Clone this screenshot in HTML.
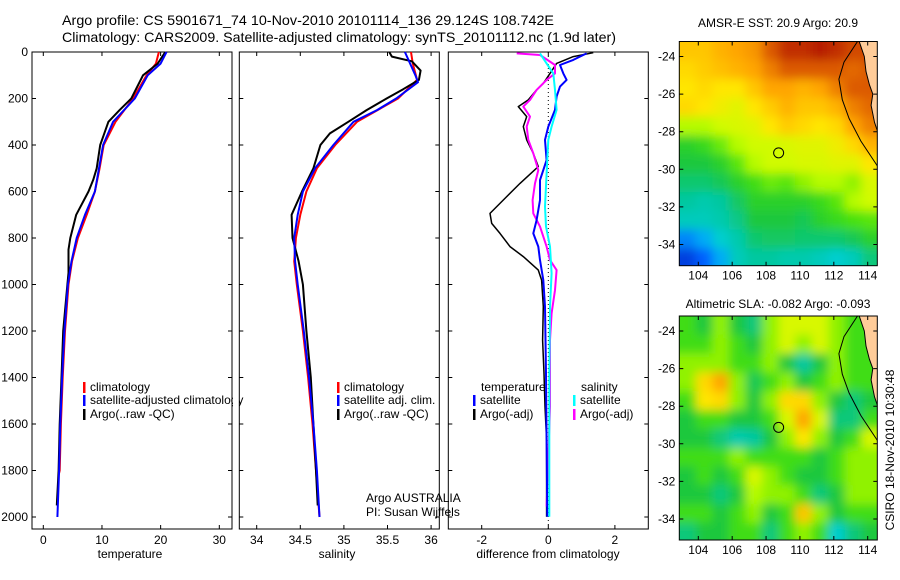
<!DOCTYPE html>
<html><head><meta charset="utf-8"><style>
body{margin:0;background:#fff}
svg{display:block;font-family:"Liberation Sans",sans-serif}
</style></head><body>
<svg id="fig" width="900" height="580" viewBox="0 0 900 580" xmlns="http://www.w3.org/2000/svg">
<rect width="900" height="580" fill="#fff"/>
<text x="62" y="25" font-size="14" textLength="492" lengthAdjust="spacingAndGlyphs">Argo profile: CS 5901671_74 10-Nov-2010 20101114_136 29.124S 108.742E</text>
<text x="62" y="42" font-size="14" textLength="554" lengthAdjust="spacingAndGlyphs">Climatology: CARS2009. Satellite-adjusted climatology: synTS_20101112.nc (1.9d later)</text>
<text x="778" y="27" font-size="12" text-anchor="middle">AMSR-E SST: 20.9 Argo: 20.9</text>
<text x="778" y="308" font-size="12" text-anchor="middle">Altimetric SLA: -0.082 Argo: -0.093</text>
<text transform="translate(894,450) rotate(-90)" font-size="12" text-anchor="middle">CSIRO 18-Nov-2010 10:30:48</text>
<g id="plots"></g>
</svg>
<script>
// ---------- data ----------
const tClimDepth=[0,50,100,200,300,400,500,600,700,800,900,1000,1200,1400,1600,1800,1820];
const tClimVal=[19.7,19.2,17.6,15.3,12.3,10.3,9.6,8.8,7.4,5.9,4.9,4.3,3.7,3.3,3.0,2.8,2.6];
const tSatDepth=[0,50,100,200,300,400,500,600,700,800,900,1000,1200,1400,1600,1800,2000];
const tSatVal=[21.0,20.0,17.8,15.6,11.9,10.2,9.5,8.8,7.1,5.7,4.8,4.2,3.6,3.2,2.9,2.7,2.4];
const tArgoDepth=[0,50,100,200,250,300,350,400,500,550,600,700,800,850,950,1000,1200,1400,1600,1800,1950];
const tArgoVal=[20.8,19.5,17.0,15.0,13.0,11.1,10.4,9.7,9.1,8.5,7.7,5.6,4.6,4.3,4.3,4.1,3.4,3.1,2.8,2.6,2.3];

const sClimDepth=[0,50,120,200,300,400,500,600,700,800,900,1000,1200,1400,1600,1800,2000];
const sClimVal=[35.77,35.79,35.84,35.62,35.15,34.90,34.69,34.57,34.50,34.45,34.43,34.46,34.53,34.59,34.64,34.68,34.72];
const sSatDepth=[0,100,130,200,250,300,400,500,600,700,800,900,1000,1200,1400,1600,1800,2000];
const sSatVal=[35.70,35.82,35.85,35.60,35.38,35.11,34.88,34.67,34.53,34.47,34.43,34.44,34.47,34.54,34.60,34.65,34.69,34.72];
const sArgoDepth=[0,20,40,80,120,160,200,250,300,350,400,500,600,700,800,900,1000,1200,1400,1600,1800,1950];
const sArgoVal=[35.52,35.55,35.78,35.88,35.86,35.68,35.49,35.26,35.05,34.84,34.73,34.65,34.52,34.40,34.41,34.48,34.53,34.57,34.62,34.65,34.68,34.70];

const dTArgoDepth=[3,20,49,92,135,163,206,235,278,321,378,436,493,565,622,694,737,780,837,880,938,981,1095,1239,1382,1525,1669,1999];
const dTArgoVal=[1.35,0.75,0.25,0.05,-0.15,-0.35,-0.6,-0.9,-0.65,-0.75,-0.65,-0.45,-0.3,-0.85,-1.25,-1.75,-1.7,-1.45,-1.15,-0.75,-0.3,-0.2,-0.15,-0.17,-0.13,-0.1,-0.05,-0.05];
const dTSatDepth=[6,34,56,92,120,149,192,249,321,378,465,551,637,723,780,837,895,981,1095,1382,1999];
const dTSatVal=[1.15,0.75,0.35,0.45,0.55,0.35,0.25,0.2,0,-0.1,-0.05,-0.25,-0.25,-0.35,-0.45,-0.3,-0.25,-0.15,-0.1,-0.07,-0.03];
const dSArgoDepth=[6,13,56,92,120,163,206,235,278,321,378,436,508,565,637,694,751,837,895,938,1024,1124,1239,1525,1955];
const dSArgoVal=[-0.95,-0.25,0.2,0.2,-0.05,-0.35,-0.55,-0.75,-0.55,-0.65,-0.6,-0.45,-0.3,-0.4,-0.47,-0.45,-0.25,-0.05,0.05,0.25,0.2,0.1,0.05,0.05,-0.05];
const dSSatDepth=[6,49,92,163,249,321,378,522,665,751,837,952,1095,1382,1999];
const dSSatVal=[-0.25,-0.05,0.15,0.2,0.25,0.1,0,-0.05,-0.1,-0.07,0.05,0.1,0.05,0.03,0.03];

const depthTicks=[0,200,400,600,800,1000,1200,1400,1600,1800,2000];
const tempTicks=[0,10,20,30];
const salTicks=[34,34.5,35,35.5,36];
const salTickLabels=["34","34.5","35","35.5","36"];
const diffTicks=[-2,0,2];
const lonTicks=[104,106,108,110,112,114];
const latTicks=[-24,-26,-28,-30,-32,-34];
const argoLon=108.742, argoLat=-29.124;

const sstGrid=[
[0.75,0.75,0.78,0.80,0.82,0.90,0.95,0.95,0.97,0.95,0.92,0.92],
[0.72,0.74,0.76,0.78,0.80,0.85,0.90,0.90,0.90,0.90,0.88,0.90],
[0.70,0.72,0.70,0.70,0.75,0.80,0.80,0.78,0.80,0.85,0.90,0.90],
[0.72,0.70,0.68,0.66,0.70,0.74,0.78,0.75,0.75,0.78,0.85,0.88],
[0.62,0.62,0.64,0.65,0.66,0.70,0.74,0.72,0.70,0.72,0.80,0.85],
[0.52,0.54,0.58,0.62,0.64,0.64,0.65,0.66,0.66,0.68,0.72,0.78],
[0.50,0.50,0.52,0.57,0.62,0.64,0.64,0.65,0.65,0.66,0.66,0.70],
[0.46,0.46,0.48,0.52,0.55,0.58,0.57,0.60,0.62,0.62,0.60,0.65],
[0.42,0.40,0.42,0.47,0.52,0.52,0.52,0.52,0.54,0.57,0.62,0.64],
[0.38,0.38,0.40,0.44,0.50,0.50,0.50,0.48,0.52,0.54,0.56,0.57],
[0.20,0.25,0.35,0.40,0.46,0.47,0.47,0.46,0.46,0.46,0.48,0.52],
[0.10,0.15,0.25,0.38,0.42,0.42,0.40,0.40,0.38,0.35,0.38,0.45]];
const slaGrid=[
[0.55,0.50,0.60,0.50,0.45,0.60,0.65,0.65,0.65,0.60,0.55,0.55],
[0.55,0.55,0.60,0.55,0.50,0.60,0.65,0.60,0.65,0.60,0.55,0.55],
[0.60,0.60,0.60,0.55,0.55,0.60,0.50,0.42,0.50,0.60,0.55,0.55],
[0.60,0.72,0.80,0.60,0.48,0.55,0.60,0.50,0.55,0.60,0.55,0.55],
[0.55,0.70,0.72,0.60,0.50,0.60,0.72,0.72,0.60,0.50,0.45,0.50],
[0.50,0.55,0.55,0.50,0.50,0.55,0.65,0.80,0.65,0.45,0.45,0.55],
[0.50,0.50,0.45,0.40,0.42,0.50,0.60,0.70,0.60,0.50,0.55,0.65],
[0.55,0.55,0.55,0.60,0.55,0.55,0.55,0.55,0.50,0.55,0.60,0.60],
[0.50,0.55,0.50,0.55,0.65,0.60,0.55,0.50,0.50,0.55,0.60,0.60],
[0.50,0.50,0.45,0.50,0.62,0.60,0.60,0.55,0.45,0.50,0.60,0.60],
[0.55,0.55,0.50,0.55,0.60,0.50,0.55,0.75,0.60,0.50,0.55,0.55],
[0.45,0.50,0.50,0.55,0.55,0.45,0.55,0.60,0.55,0.35,0.45,0.50]];
const coastLon=[113.5,113.8,113.9,114.1,114.3,114.2,114.4,114.7];
const coastLat=[-23.2,-24.0,-24.8,-25.5,-26.0,-26.6,-27.5,-28.3];
const contourLon=[113.4,112.6,112.3,112.5,112.9,113.6,114.7];
const contourLat=[-23.2,-24.3,-25.2,-26.3,-27.3,-28.5,-30.0];

// ---------- drawing ----------
const NS="http://www.w3.org/2000/svg";
const root=document.getElementById('plots');
function el(tag,attrs,parent,text){const e=document.createElementNS(NS,tag);for(const k in attrs)e.setAttribute(k,attrs[k]);if(text!==undefined)e.textContent=text;(parent||root).appendChild(e);return e;}
const yD=d=>52+d*0.2325;
const xT=t=>43.3+t*5.867;
const xS=s=>256.7+(s-34)*87.2;
const xDf=v=>548.3+v*33.3;
const P={top:52,bot:529};

function frame(x0,x1,name){
  const r=el('rect',{x:x0,y:P.top,width:x1-x0,height:P.bot-P.top,fill:'none',stroke:'#000','stroke-width':1});
  
  
  depthTicks.forEach(d=>{
    const t=el('path',{d:`M${x0},${yD(d)}h4M${x1},${yD(d)}h-4`,stroke:'#000','stroke-width':1});
    
    
  });
}
function xticks(vals,labels,fx,label,name){
  vals.forEach((v,i)=>{
    const t=el('path',{d:`M${fx(v)},${P.bot}v-4M${fx(v)},${P.top}v4`,stroke:'#000','stroke-width':1});
    
    
    const tx=el('text',{x:fx(v),y:544,'font-size':12,'text-anchor':'middle'},root,labels[i]);
    
    
  });
}
function line(depths,vals,fx,color,name,w){
  const pts=depths.map((d,i)=>fx(vals[i]).toFixed(1)+','+yD(d).toFixed(1)).join(' ');
  const p=el('polyline',{points:pts,fill:'none',stroke:color,'stroke-width':w||2,'stroke-linejoin':'round'});
  
  
}
function legend(x,y,color,label,name){
  const m=el('rect',{x:x,y:y-9,width:2.5,height:11,fill:color});
  
  
  const t=el('text',{x:x+7,y:y,'font-size':12},root,label);
  
  
}

// panel 1 temperature
frame(32,232,'temperature-panel');
depthTicks.forEach(d=>{
  const t=el('text',{x:28,y:yD(d)+4,'font-size':12,'text-anchor':'end'},root,String(d));
  
  
});
xticks(tempTicks,tempTicks.map(String),xT,'temperature','temperature-axis');
line(tClimDepth,tClimVal,xT,'#ff0000','temperature-climatology-line');
line(tArgoDepth,tArgoVal,xT,'#000','temperature-argo-line');
line(tSatDepth,tSatVal,xT,'#0000ff','temperature-satellite-line');
let xl=el('text',{x:130,y:558,'font-size':12,'text-anchor':'middle'},root,'temperature');


legend(83,391,'#ff0000','climatology','legend-climatology');
legend(83,404,'#0000ff','satellite-adjusted climatology','legend-satellite-adjusted');
legend(83,418,'#000','Argo(..raw -QC)','legend-argo-raw');
el('rect',{x:233,y:395,width:6,height:14,fill:'#fff'});

// panel 2 salinity
frame(239.3,439.3,'salinity-panel');
xticks(salTicks,salTickLabels,xS,'salinity','salinity-axis');
line(sClimDepth,sClimVal,xS,'#ff0000','salinity-climatology-line');
line(sArgoDepth,sArgoVal,xS,'#000','salinity-argo-line');
line(sSatDepth,sSatVal,xS,'#0000ff','salinity-satellite-line');
xl=el('text',{x:337,y:558,'font-size':12,'text-anchor':'middle'},root,'salinity');


legend(337,391,'#ff0000','climatology','legend-sal-climatology');
legend(337,404,'#0000ff','satellite adj. clim.','legend-sal-satellite');
legend(337,418,'#000','Argo(..raw -QC)','legend-sal-argo');
let at=el('text',{x:366,y:502,'font-size':12},root,'Argo AUSTRALIA');


at=el('text',{x:366,y:516,'font-size':12},root,'PI: Susan Wijffels');



// panel 3 difference
frame(448.3,648.3,'difference-panel');
xticks(diffTicks,diffTicks.map(String),xDf,'difference','difference-axis');
let zl=el('line',{x1:xDf(0),x2:xDf(0),y1:P.top,y2:P.bot,stroke:'#000','stroke-width':1,'stroke-dasharray':'1,3'});


line(dTArgoDepth,dTArgoVal,xDf,'#000','diff-temperature-argo-line',1.5);
line(dSArgoDepth,dSArgoVal,xDf,'#ff00ff','diff-salinity-argo-line');
line(dTSatDepth,dTSatVal,xDf,'#0000ff','diff-temperature-satellite-line');
line(dSSatDepth,dSSatVal,xDf,'#00ffff','diff-salinity-satellite-line');
xl=el('text',{x:548,y:558,'font-size':12,'text-anchor':'middle'},root,'difference from climatology');


at=el('text',{x:481,y:391,'font-size':12},root,'temperature');


at=el('text',{x:581,y:391,'font-size':12},root,'salinity');


legend(473,404,'#0000ff','satellite','legend-diff-temp-satellite');
legend(473,418,'#000','Argo(-adj)','legend-diff-temp-argo');
legend(573,404,'#00ffff','satellite','legend-diff-sal-satellite');
legend(573,418,'#ff00ff','Argo(-adj)','legend-diff-sal-argo');

// maps
const stops=[[0,[0,0,160]],[0.15,[0,96,255]],[0.3,[0,210,240]],[0.42,[0,200,160]],[0.5,[30,200,60]],[0.56,[70,225,10]],[0.63,[200,255,0]],[0.7,[255,230,0]],[0.8,[255,165,0]],[0.9,[220,90,0]],[1,[165,0,0]]];
function cmap(v){
  for(let i=1;i<stops.length;i++){if(v<=stops[i][0]){const a=stops[i-1],b=stops[i],f=(v-a[0])/(b[0]-a[0]);
    return 'rgb('+a[1].map((c,k)=>Math.round(c+(b[1][k]-c)*f)).join(',')+')';}}
  return 'rgb(165,0,0)';
}
const defs=el('defs',{});
const flt=el('filter',{id:'blur',x:'-10%',y:'-10%',width:'120%',height:'120%'},defs);
el('feGaussianBlur',{stdDeviation:5},flt);
function map(top,bot,grid,name){
  const L=679.3,R=877.3;
  const lonX=lon=>698.3+(lon-104)*16.94;
  const latY=lat=>top+15+(-24-lat)*18.8;
  const cid='clip-'+name;
  const cp=el('clipPath',{id:cid},defs);
  el('rect',{x:L,y:top,width:R-L,height:bot-top},cp);
  const g=el('g',{'clip-path':`url(#${cid})`});
  
  
  const gg=el('g',{filter:'url(#blur)'},g);
  const rows=grid.length,cols=grid[0].length;
  const lon0=102.88,dlon=(114.6-102.88)/cols,lat0=-23.2,dlat=12/rows;
  grid.forEach((row,r)=>row.forEach((v,c)=>{
    const x=lonX(lon0+c*dlon),y=latY(lat0-r*dlat);
    const cell=el('rect',{x:x-(c==0?12:0),y:y-(r==0?12:0),width:lonX(lon0+(c+1)*dlon)-x+1+(c==0?12:0)+(c==cols-1?12:0),height:latY(lat0-(r+1)*dlat)-y+1+(r==0?12:0)+(r==rows-1?12:0),fill:cmap(v)},gg);
    
    
  }));
  const land=coastLon.map((lo,i)=>lonX(lo).toFixed(1)+','+latY(coastLat[i]).toFixed(1)).join(' ')+` ${R+2},${latY(coastLat[coastLat.length-1])} ${R+2},${top-2} ${lonX(coastLon[0])},${top-2}`;
  const lp=el('polygon',{points:land,fill:'#ffcc99',stroke:'#000','stroke-width':1},g);
  
  
  const ct=el('polyline',{points:contourLon.map((lo,i)=>lonX(lo).toFixed(1)+','+latY(contourLat[i]).toFixed(1)).join(' '),fill:'none',stroke:'#000','stroke-width':1},g);
  
  
  const fr=el('rect',{x:L,y:top,width:R-L,height:bot-top,fill:'none',stroke:'#000','stroke-width':1});
  
  
  lonTicks.forEach(lo=>{
    const t=el('path',{d:`M${lonX(lo)},${top}v4M${lonX(lo)},${bot}v-4`,stroke:'#000'});
    
    
    const tx=el('text',{x:lonX(lo),y:bot+14,'font-size':12,'text-anchor':'middle'},root,String(lo));
    
    
  });
  latTicks.forEach(la=>{
    const t=el('path',{d:`M${L},${latY(la)}h4M${R},${latY(la)}h-4`,stroke:'#000'});
    
    
    const tx=el('text',{x:L-4,y:latY(la)+4,'font-size':12,'text-anchor':'end'},root,String(la));
    
    
  });
  const c=el('circle',{cx:lonX(argoLon),cy:latY(argoLat),r:5,fill:'none',stroke:'#000','stroke-width':1});
  
  
}
map(41.5,265.7,sstGrid,'sst');
map(316,540,slaGrid,'sla');
</script>
</body></html>
